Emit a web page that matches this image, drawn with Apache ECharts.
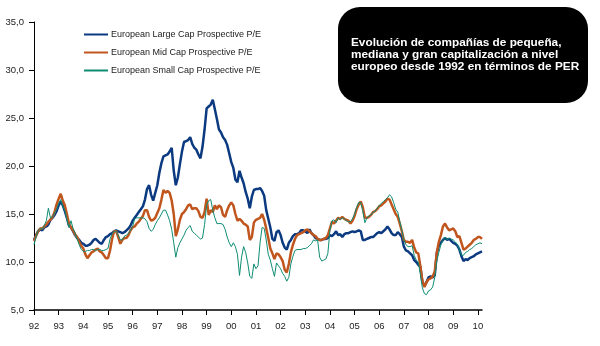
<!DOCTYPE html>
<html>
<head>
<meta charset="utf-8">
<script src="https://cdn.jsdelivr.net/npm/echarts@6/dist/echarts.min.js"></script>
<style>
  html, body { margin: 0; padding: 0; background: #fff; }
  #chart { width: 600px; height: 346px; }
</style>
</head>
<body>
<div id="chart"></div>
<script>
// Year tick labels (one per January, 1992 .. 2010)
const yearLabels = ['92','93','94','95','96','97','98','99','00','01','02','03','04','05','06','07','08','09','10'];
// Monthly observations run from Jan 1992 to Mar 2010
const monthsInLastYear = 3;

const seriesNames = [
  'European Large Cap Prospective P/E',
  'European Mid Cap Prospective P/E',
  'European Small Cap Prospective P/E'
];

// Monthly prospective P/E, one row per year (Jan..Dec)
const largeCap = [
  12.3, 12.8, 13.2, 13.4, 13.3, 13.6, 13.7, 13.9, 14.4, 14.6, 14.9, 15.3, // 92
  15.9, 16.3, 15.9, 15.3, 14.6, 13.8, 13.6, 13.2, 12.8, 12.5, 12.3, 12.0, // 93
  11.9, 11.7, 11.7, 11.8, 12.0, 12.3, 12.4, 12.2, 12.0, 11.9, 12.3, 12.6, // 94
  12.7, 12.9, 13.0, 13.2, 13.3, 13.2, 13.1, 13.0, 13.1, 13.3, 13.5, 13.8, // 95
  14.3, 14.6, 14.9, 15.2, 15.5, 15.8, 16.5, 17.6, 18.0, 17.0, 16.4, 17.2, // 96
  18.0, 19.3, 20.3, 21.0, 21.1, 21.2, 21.5, 21.9, 19.5, 18.0, 18.8, 20.2, // 97
  21.5, 22.5, 22.6, 22.7, 23.0, 22.3, 21.9, 21.7, 21.2, 20.8, 22.0, 23.8, // 98
  26.0, 26.2, 26.4, 26.9, 25.9, 24.9, 23.8, 23.5, 23.0, 22.7, 22.2, 21.3, // 99
  20.4, 19.8, 18.6, 18.3, 19.5, 18.8, 18.2, 17.3, 16.6, 15.6, 16.8, 17.5, // 00
  17.6, 17.6, 17.7, 17.4, 16.9, 15.4, 14.5, 13.6, 12.4, 12.2, 13.1, 13.3, // 01
  12.8, 12.0, 11.5, 11.3, 12.0, 12.3, 12.7, 12.9, 12.9, 13.0, 13.3, 13.3, // 02
  13.2, 13.0, 13.4, 13.0, 12.8, 12.5, 12.4, 12.3, 12.3, 12.4, 12.4, 12.5, // 03
  12.8, 12.7, 12.9, 13.2, 12.8, 12.9, 12.6, 12.9, 13.0, 13.0, 13.1, 13.2, // 04
  13.1, 13.2, 13.3, 13.2, 12.3, 12.3, 12.4, 12.5, 12.6, 12.6, 12.8, 13.0, // 05
  13.1, 13.0, 13.2, 13.4, 13.7, 13.4, 13.0, 12.8, 12.8, 13.1, 12.9, 12.6, // 06
  11.6, 11.2, 11.1, 10.9, 10.7, 10.2, 10.0, 9.7, 9.5, 7.9, 7.5, 7.9,      // 07
  8.4, 8.5, 8.4, 8.6, 10.9, 11.7, 12.0, 12.3, 12.5, 12.3, 12.4, 12.2,     // 08
  12.0, 11.9, 11.7, 11.3, 10.6, 10.1, 10.3, 10.2, 10.4, 10.5, 10.6, 10.8, // 09
  10.9, 11.0, 11.1                                                         // 10
];

const midCap = [
  12.2, 12.7, 13.2, 13.5, 13.5, 13.7, 13.9, 14.2, 14.4, 14.7, 15.2, 16.0, // 92
  16.6, 17.1, 16.4, 15.9, 15.0, 14.0, 13.6, 13.3, 12.9, 12.6, 12.1, 11.7, // 93
  11.4, 10.8, 10.4, 10.7, 11.0, 11.1, 11.3, 11.4, 11.1, 11.0, 10.7, 10.4, // 94
  10.4, 11.2, 12.4, 13.2, 13.2, 12.6, 11.9, 12.3, 12.5, 12.5, 12.8, 13.3, // 95
  13.6, 13.7, 14.0, 14.2, 14.5, 14.8, 15.4, 15.4, 14.7, 14.3, 14.4, 14.6, // 96
  15.1, 15.6, 16.5, 17.5, 17.2, 17.4, 17.2, 16.4, 15.0, 12.7, 13.4, 14.4, // 97
  15.0, 15.2, 15.5, 15.9, 16.0, 15.5, 15.6, 15.6, 15.3, 14.7, 14.6, 15.2, // 98
  16.6, 14.9, 15.4, 15.2, 15.9, 15.5, 15.9, 15.7, 14.9, 14.7, 15.4, 15.9, // 99
  16.2, 15.9, 15.0, 14.3, 14.5, 14.3, 14.0, 13.9, 13.7, 12.3, 12.6, 14.1, // 00
  14.4, 14.5, 14.6, 15.0, 14.4, 13.5, 12.5, 11.4, 10.9, 10.3, 10.9, 10.8, // 01
  10.5, 10.1, 9.2, 8.9, 9.8, 11.0, 11.8, 12.4, 12.8, 12.9, 13.0, 13.1,    // 02
  13.3, 13.4, 13.2, 13.0, 12.8, 12.7, 12.4, 12.3, 12.3, 12.4, 12.5, 12.8, // 03
  13.5, 14.2, 14.0, 14.3, 14.6, 14.5, 14.7, 14.5, 14.4, 14.3, 14.0, 14.3, // 04
  14.8, 15.5, 16.0, 16.3, 15.7, 14.6, 14.6, 14.7, 14.9, 15.2, 15.3, 15.5, // 05
  15.8, 15.9, 16.1, 16.3, 16.6, 16.5, 16.0, 15.5, 15.0, 14.7, 14.0, 13.2, // 06
  12.3, 12.1, 12.1, 12.0, 12.3, 11.5, 11.0, 10.9, 9.6, 8.0, 7.4, 7.9,     // 07
  8.2, 8.3, 8.5, 9.0, 11.0, 12.1, 12.8, 13.7, 14.0, 13.6, 13.3, 13.4,     // 08
  13.5, 13.2, 12.6, 12.7, 12.0, 11.3, 11.4, 11.6, 11.8, 12.0, 12.3, 12.4, // 09
  12.6, 12.6, 12.4                                                         // 10
];

const smallCap = [
  11.8, 12.6, 13.3, 13.5, 13.4, 13.8, 14.3, 15.6, 14.6, 14.7, 15.1, 15.5, // 92
  16.1, 16.5, 15.8, 15.4, 14.5, 13.6, 14.3, 13.5, 13.0, 12.4, 11.8, 11.3, // 93
  11.1, 11.1, 11.2, 11.2, 11.3, 11.3, 11.2, 11.3, 11.3, 11.2, 11.2, 11.3, // 94
  11.4, 12.4, 12.9, 13.2, 13.2, 12.8, 12.3, 12.3, 12.7, 12.8, 13.0, 13.3, // 95
  13.7, 14.5, 14.6, 14.6, 14.6, 14.6, 14.5, 14.2, 13.5, 13.2, 13.4, 13.9, // 96
  14.3, 14.6, 15.0, 15.4, 15.4, 14.9, 14.3, 13.4, 12.0, 10.5, 11.5, 12.0, // 97
  12.4, 12.8, 13.3, 13.6, 13.8, 13.2, 13.0, 12.8, 12.6, 12.4, 12.5, 13.9, // 98
  15.9, 16.4, 16.5, 15.4, 14.6, 14.0, 14.0, 14.0, 13.9, 13.4, 12.6, 12.0, // 99
  11.6, 12.0, 11.6, 10.8, 8.6, 10.5, 11.6, 11.0, 9.9, 8.5, 8.3, 9.8,      // 00
  9.3, 9.6, 12.0, 13.6, 13.5, 12.3, 10.8, 10.2, 9.3, 8.5, 9.9, 9.6,       // 01
  9.3, 8.8, 8.5, 8.0, 8.4, 9.8, 10.6, 11.2, 11.3, 11.3, 11.3, 11.4,       // 02
  11.4, 11.5, 11.7, 11.9, 12.3, 12.2, 12.3, 10.5, 10.1, 10.2, 10.3, 10.9, // 03
  13.3, 14.3, 14.4, 14.1, 14.6, 14.4, 14.6, 14.5, 14.3, 14.2, 14.2, 14.5, // 04
  15.0, 15.7, 16.2, 16.2, 15.3, 14.1, 14.6, 14.8, 14.9, 15.2, 15.3, 15.6, // 05
  15.9, 16.1, 16.3, 16.5, 16.7, 17.0, 16.8, 16.2, 15.5, 15.2, 14.2, 13.3, // 06
  12.3, 11.8, 11.6, 11.6, 11.7, 10.7, 10.2, 10.0, 8.7, 7.3, 6.7, 6.6,     // 07
  7.0, 7.1, 7.4, 8.4, 10.1, 11.0, 11.8, 12.3, 12.6, 12.3, 12.5, 12.4,     // 08
  12.3, 12.1, 11.8, 11.3, 10.7, 10.7, 11.0, 11.1, 11.3, 11.4, 11.6, 11.8, // 09
  11.9, 12.0, 11.9                                                         // 10
];

// Category axis: one entry per month, named "yy-mm"
const months = [];
yearLabels.forEach((yy, i) => {
  const n = i === yearLabels.length - 1 ? monthsInLastYear : 12;
  for (let m = 1; m <= n; m++) months.push(yy + '-' + String(m).padStart(2, '0'));
});

const titleLines = [
  'Evolución de compañías de pequeña,',
  'mediana y gran capitalización a nivel',
  'europeo desde 1992 en términos de PER'
];

const colors = ['#0B3A80', '#C0561E', '#0E8C73'];
const widths = [2.5, 2.5, 1];
const values = [largeCap, midCap, smallCap];

const chart = echarts.init(document.getElementById('chart'), null, { renderer: 'canvas' });
const axisText = { color: '#222', fontSize: 9.5, fontFamily: 'Liberation Sans, Arial, sans-serif' };

chart.setOption({
  animation: false,
  backgroundColor: '#ffffff',
  grid: { left: 34, right: 118, top: 22, bottom: 36, containLabel: false },
  legend: {
    orient: 'vertical',
    left: 83,
    top: 30,
    padding: 0,
    itemWidth: 24,
    itemHeight: 10,
    itemGap: 9,
    itemStyle: { opacity: 0 },
    textStyle: Object.assign({}, axisText, { fontSize: 9, padding: [0, 0, 0, -2] }),
    data: seriesNames
  },
  xAxis: {
    type: 'category',
    boundaryGap: false,
    data: months,
    axisLine: { lineStyle: { color: '#000', width: 1.5 } },
    axisTick: { length: 5, lineStyle: { color: '#000' }, interval: (i) => i % 12 === 0 },
    axisLabel: Object.assign({}, axisText, {
      margin: 11,
      interval: (i) => i % 12 === 0,
      formatter: (v) => v.split('-')[0]
    }),
    splitLine: { show: false }
  },
  yAxis: {
    type: 'value',
    min: 5,
    max: 35,
    interval: 5,
    axisLine: { show: true, lineStyle: { color: '#000', width: 1 } },
    axisTick: { show: true, length: 5, lineStyle: { color: '#000' } },
    axisLabel: Object.assign({}, axisText, {
      margin: 10,
      formatter: (v) => v.toFixed(1).replace('.', ',')
    }),
    splitLine: { show: false }
  },
  series: seriesNames.map((name, i) => ({
    name: name,
    type: 'line',
    data: values[i],
    symbol: 'none',
    smooth: false,
    color: colors[i],
    lineStyle: { color: colors[i], width: widths[i] }
  })),
  graphic: [{
    type: 'group',
    left: 338,
    top: 7,
    children: [
      {
        type: 'rect',
        shape: { x: 0, y: 0, width: 250, height: 96, r: 22 },
        style: { fill: '#000' }
      },
      {
        type: 'text',
        x: 13,
        y: 30,
        style: {
          text: titleLines.join('\n'),
          fill: '#fff',
          font: 'bold 11.8px "Liberation Sans", Arial, sans-serif',
          lineHeight: 11.8,
          verticalAlign: 'top'
        }
      }
    ]
  }]
});
</script>
</body>
</html>
